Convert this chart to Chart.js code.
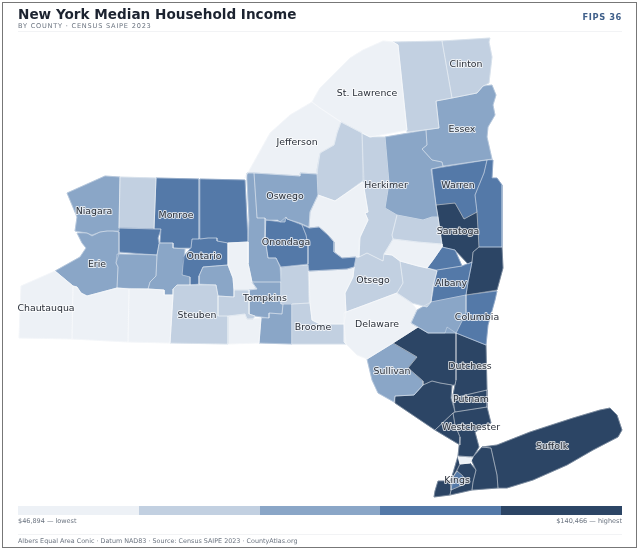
<!DOCTYPE html>
<html>
<head>
<meta charset="utf-8">
<title>New York Median Household Income</title>
<script src="https://cdn.jsdelivr.net/npm/chart.js@4/dist/chart.umd.min.js"></script>
<style>
  html, body { margin: 0; background: #fff; }
  body { width: 640px; height: 551px; position: relative; overflow: hidden; font-family: "DejaVu Sans", sans-serif; }
  canvas { position: absolute; left: 0; top: 0; }
  #frame { position: absolute; left: 2px; top: 2px; width: 633px; height: 544px; border: 1px solid #777; }
  .t { position: absolute; white-space: nowrap; }
  #title { left: 18px; top: 6px; font-size: 13.6px; font-weight: bold; color: #1c2330; }
  #sub { left: 18px; top: 22px; font-size: 6.6px; letter-spacing: .78px; color: #6b7480; }
  #fips { right: 18px; top: 12px; font-size: 8.3px; font-weight: bold; letter-spacing: .6px; color: #3f5f8a; }
  .rule { position: absolute; left: 18px; width: 604px; height: 1px; background: #f2f3f5; }
  #strip { position: absolute; left: 18px; top: 506px; width: 604px; height: 9px; display: flex; }
  #strip div { flex: 1; }
  .note { font-size: 6.5px; color: #6b7480; }
</style>
</head>
<body>
<canvas id="map" width="640" height="551"></canvas>
<div id="frame"></div>
<div class="t" id="title">New York Median Household Income</div>
<div class="t" id="sub">BY COUNTY · CENSUS SAIPE 2023</div>
<div class="t" id="fips">FIPS 36</div>
<div class="rule" style="top:31px"></div>
<div id="strip"></div>
<div class="t note" style="left:18px;top:517px">$46,894 — lowest</div>
<div class="t note" style="right:18px;top:517px">$140,466 — highest</div>
<div class="rule" style="top:534px"></div>
<div class="t note" style="left:18px;top:537px;font-size:6.4px">Albers Equal Area Conic · Datum NAD83 · Source: Census SAIPE 2023 · CountyAtlas.org</div>
<script>
// income classes, lowest to highest
const classColors = ['#edf1f6', '#c2d0e1', '#8aa6c7', '#5479a8', '#2c4565'];

const countyNames = [
  'Chautauqua', 'Cattaraugus', 'Allegany', 'Steuben', 'Schuyler', 'Chemung', 'Tioga', 'Tompkins', 'Seneca', 'Cayuga',
  'Yates', 'Ontario', 'Livingston', 'Wyoming', 'Genesee', 'Orleans', 'Niagara', 'Erie', 'Monroe', 'Wayne',
  'Oswego', 'Onondaga', 'Madison', 'Oneida', 'Lewis', 'Jefferson', 'St. Lawrence', 'Franklin', 'Clinton', 'Essex',
  'Hamilton', 'Herkimer', 'Fulton', 'Montgomery', 'Schoharie', 'Schenectady', 'Albany', 'Saratoga', 'Warren', 'Washington',
  'Rensselaer', 'Columbia', 'Greene', 'Delaware', 'Ulster', 'Sullivan', 'Orange', 'Rockland', 'Westchester', 'Putnam',
  'Dutchess', 'Bronx', 'Suffolk', 'Nassau', 'Queens', 'Kings', 'Richmond', 'New York', 'Cortland', 'Chenango',
  'Broome', 'Otsego'
];

const countyClass = [
  0, 0, 0, 1, 1, 0, 2, 2, 0, 2,
  2, 3, 2, 2, 3, 1, 2, 2, 3, 3,
  2, 3, 3, 0, 1, 0, 0, 1, 1, 2,
  2, 1, 1, 0, 1, 3, 3, 4, 3, 3,
  4, 3, 2, 0, 4, 2, 4, 4, 4, 4,
  4, 0, 4, 4, 4, 3, 4, 4, 1, 0,
  1, 1
];

// county outlines, map units, x then y
const countyOutlines = [
  [21,286, 55,271, 73,286, 72,339, 19,338],
  [73,286, 77,287, 81,293, 87,296, 117,288, 129,289, 128,342, 72,339],
  [129,289, 148,289, 164,290, 164,295, 173,295, 170,343, 128,342],
  [173,295, 173,289, 177,285, 216,285, 218,296, 218,316, 228,316, 228,344, 170,343],
  [218,296, 234,297, 234,290, 249,290, 249,314, 255,316, 253,319, 247,319, 245,314, 228,316, 218,316],
  [228,316, 245,314, 247,319, 261,318, 259,343, 228,344],
  [261,318, 269,318, 269,313, 282,314, 283,304, 292,304, 292,344, 259,343],
  [252,282, 281,282, 281,304, 283,304, 282,314, 269,313, 269,318, 255,316, 249,314, 249,290, 257,289],
  [228,243, 248,242, 248,263, 252,282, 257,289, 249,290, 234,290, 233,278, 228,265],
  [247,173, 254,173, 257,218, 265,218, 265,238, 268,258, 276,258, 280,267, 281,282, 252,282, 248,263, 248,242, 249,220, 247,180],
  [199,276, 203,267, 228,265, 233,278, 234,290, 234,297, 218,296, 216,285, 199,284],
  [192,239, 200,239, 208,238, 217,238, 217,241, 228,243, 228,265, 203,267, 199,276, 199,284, 190,285, 190,277, 182,275, 183,257, 191,248],
  [160,243, 173,243, 173,248, 185,249, 182,275, 190,277, 190,285, 177,285, 173,289, 173,295, 164,295, 164,290, 148,289, 150,282, 156,276, 157,255, 159,244],
  [117,254, 157,255, 156,276, 150,282, 148,289, 117,288, 118,267, 116,263],
  [119,228, 161,229, 158,238, 159,244, 157,255, 119,252],
  [120,177, 156,178, 154,229, 119,228],
  [105,176, 120,177, 119,231, 113,231, 107,231, 100,232, 92,235, 87,233, 75,231, 77,217, 67,193],
  [77,233, 87,233, 92,236, 100,232, 107,231, 113,231, 119,232, 119,254, 116,263, 118,267, 117,288, 87,296, 81,293, 77,287, 73,286, 55,271, 80,257, 86,248, 82,243],
  [156,178, 199,179, 199,239, 192,239, 191,248, 173,248, 173,243, 160,243, 161,229, 154,229],
  [200,179, 245,180, 248,242, 228,243, 217,241, 217,238, 208,238, 200,239],
  [254,173, 300,176, 300,173, 317,174, 318,195, 310,212, 309,227, 300,223, 287,219, 286,217, 285,222, 280,222, 278,220, 266,220, 265,218, 257,218],
  [266,220, 280,222, 286,217, 287,219, 302,225, 306,235, 308,245, 308,264, 281,267, 276,258, 268,258, 265,238],
  [302,225, 309,228, 319,227, 328,235, 334,242, 334,252, 342,258, 356,257, 354,267, 347,269, 309,271, 308,264, 308,245, 306,235],
  [318,195, 335,201, 363,182, 368,212, 365,213, 368,220, 360,237, 359,257, 356,257, 342,258, 334,252, 334,242, 328,235, 319,227, 309,228, 310,212],
  [341,122, 362,133, 364,180, 335,201, 318,195, 317,170, 320,153, 334,145, 337,133],
  [312,102, 320,108, 341,122, 337,133, 334,145, 320,153, 317,174, 300,173, 300,176, 254,173, 247,173, 245,178, 270,133, 290,115],
  [317,93, 320,88, 350,58, 363,50, 383,41, 393,42, 398,45, 407,130, 370,137, 362,133, 341,122, 320,108, 312,102],
  [393,42, 442,41, 452,98, 436,101, 439,128, 407,132, 398,45],
  [442,41, 490,38, 489,42, 492,57, 489,83, 483,86, 477,93, 452,98],
  [452,98, 477,93, 483,86, 492,85, 496,95, 493,105, 495,115, 488,127, 487,137, 492,159, 443,166, 442,162, 432,160, 422,149, 427,145, 426,130, 439,128, 436,101],
  [385,137, 426,130, 427,145, 422,149, 432,160, 442,162, 443,166, 431,169, 436,205, 438,217, 432,217, 423,220, 397,215, 385,208, 389,183],
  [362,133, 370,137, 385,137, 389,183, 385,208, 397,215, 392,235, 393,239, 384,254, 383,261, 367,253, 359,257, 359,240, 368,220, 365,213, 368,212, 363,182],
  [397,215, 423,220, 432,217, 438,217, 442,244, 418,242, 393,239, 392,235],
  [393,239, 418,242, 442,244, 442,247, 433,260, 427,268, 418,266, 400,261, 392,255, 384,254],
  [400,261, 418,266, 427,268, 437,271, 433,285, 431,302, 427,307, 412,303, 397,293, 403,283],
  [442,247, 455,250, 462,266, 437,270, 427,268, 433,260],
  [437,270, 462,266, 472,262, 468,282, 466,295, 431,302],
  [436,205, 455,203, 459,210, 464,219, 477,212, 478,228, 479,247, 473,252, 472,262, 468,264, 455,250, 442,247, 438,217],
  [432,169, 487,160, 484,173, 475,195, 477,212, 464,219, 459,210, 455,203, 436,205],
  [487,160, 493,160, 492,178, 497,178, 502,185, 502,247, 479,247, 477,212, 475,195, 484,173],
  [479,247, 502,247, 503,268, 497,290, 466,295, 468,282, 472,262, 473,252],
  [466,295, 497,291, 495,300, 488,325, 486,345, 456,333, 466,313],
  [431,302, 466,295, 466,313, 456,333, 428,333, 411,323, 417,310],
  [346,312, 365,305, 397,293, 412,303, 417,310, 411,323, 418,327, 393,343, 367,359, 357,355, 344,342, 344,313],
  [393,343, 418,327, 428,333, 445,333, 447,327, 456,333, 456,380, 455,385, 452,385, 440,383, 432,381, 423,385, 423,381, 408,368, 417,357],
  [367,359, 393,343, 417,357, 408,368, 423,381, 423,385, 414,395, 395,396, 394,402, 378,393, 372,380],
  [395,396, 414,395, 423,385, 432,381, 440,383, 452,385, 451,398, 455,412, 453,413, 435,430, 395,403],
  [435,430, 453,413, 455,425, 460,437, 460,445],
  [453,413, 455,412, 487,407, 491,423, 475,432, 479,447, 473,457, 458,456, 460,437, 455,425],
  [453,398, 487,390, 487,407, 455,412],
  [456,333, 486,345, 487,390, 453,398, 453,395, 456,380],
  [458,456, 473,457, 470,463, 460,464],
  [482,447, 497,445, 530,432, 573,418, 600,410, 610,408, 617,415, 622,430, 618,437, 593,450, 567,465, 533,480, 507,488, 498,488, 497,475, 491,448],
  [470,457, 473,457, 482,447, 491,448, 497,475, 498,488, 472,490, 473,482, 476,470],
  [460,464, 470,463, 476,470, 473,482, 472,490, 450,495, 451,490, 465,484, 463,476, 457,471, 453,477],
  [457,471, 463,476, 465,484, 451,490, 453,477],
  [438,481, 450,481, 451,490, 450,495, 434,497, 435,491],
  [458,456, 460,464, 457,471, 453,477, 451,490, 450,481, 453,473],
  [281,267, 308,265, 309,303, 292,304, 281,304],
  [309,271, 347,269, 354,267, 353,277, 345,293, 346,312, 344,324, 320,324, 312,320, 310,303],
  [292,304, 310,303, 312,320, 320,324, 344,324, 346,344, 292,344],
  [356,257, 359,257, 367,253, 383,261, 384,254, 392,255, 400,261, 403,283, 397,293, 365,305, 346,312, 345,293, 353,277]
];

// the counties that carry a name on the map
const labelNames = ['St. Lawrence', 'Clinton', 'Essex', 'Jefferson', 'Herkimer', 'Warren', 'Oswego', 'Niagara', 'Monroe', 'Saratoga',
  'Onondaga', 'Ontario', 'Erie', 'Otsego', 'Albany', 'Tompkins', 'Steuben', 'Columbia', 'Broome', 'Delaware',
  'Chautauqua', 'Dutchess', 'Sullivan', 'Putnam', 'Westchester', 'Suffolk', 'Kings'];
const labelX = [367, 466, 462, 297, 386, 458, 285, 94, 176, 458, 286, 204, 97, 373, 451, 265, 197, 477, 313, 377, 46, 470, 392, 471, 471, 552, 457];
const labelY = [94, 65, 130, 143, 186, 186, 197, 212, 216, 232, 243, 257, 265, 281, 284, 299, 316, 318, 328, 325, 309, 367, 372, 400, 428, 447, 481];

// turn a flat x,y list into closed scatter points
function toPoints(outline) {
  const pts = [];
  for (let i = 0; i < outline.length; i += 2) {
    pts.push({ x: outline[i], y: outline[i + 1] });
  }
  pts.push(pts[0]);
  return pts;
}

// county names with a white halo, placed through the scales
const labelPlugin = {
  id: 'countyLabels',
  afterDatasetsDraw(chart) {
    const { ctx, scales } = chart;
    ctx.save();
    ctx.font = '9.4px "DejaVu Sans", sans-serif';
    ctx.textAlign = 'center';
    ctx.textBaseline = 'middle';
    ctx.lineJoin = 'round';
    labelNames.forEach((name, i) => {
      const x = scales.x.getPixelForValue(labelX[i]);
      const y = scales.y.getPixelForValue(labelY[i]);
      ctx.lineWidth = 2;
      ctx.strokeStyle = 'rgba(255,255,255,0.75)';
      ctx.strokeText(name, x, y);
      ctx.fillStyle = '#2a303a';
      ctx.fillText(name, x, y);
    });
    ctx.restore();
  }
};

// fills first, a stroke in the county's own colour closes the seams between neighbours
const fills = countyOutlines.map((outline, i) => ({
  label: countyNames[i],
  data: toPoints(outline),
  showLine: true,
  fill: 'shape',
  tension: 0,
  pointRadius: 0,
  backgroundColor: classColors[countyClass[i]],
  borderColor: classColors[countyClass[i]],
  borderWidth: 0.8,
  order: 2
}));

// thin white county borders on top
const borders = countyOutlines.map((outline, i) => ({
  label: countyNames[i] + ' border',
  data: toPoints(outline),
  showLine: true,
  fill: false,
  tension: 0,
  pointRadius: 0,
  borderColor: 'rgba(255,255,255,0.6)',
  borderWidth: 0.5,
  order: 1
}));

new Chart(document.getElementById('map'), {
  type: 'scatter',
  data: { datasets: fills.concat(borders) },
  options: {
    responsive: false,
    animation: false,
    layout: { padding: 0 },
    plugins: { legend: { display: false }, tooltip: { enabled: false } },
    scales: {
      x: { type: 'linear', min: 0, max: 640, display: false },
      y: { type: 'linear', min: 0, max: 551, reverse: true, display: false }
    }
  },
  plugins: [labelPlugin]
});

// legend strip, one block per class
classColors.forEach(color => {
  const block = document.createElement('div');
  block.style.background = color;
  document.getElementById('strip').appendChild(block);
});
</script>
</body>
</html>
